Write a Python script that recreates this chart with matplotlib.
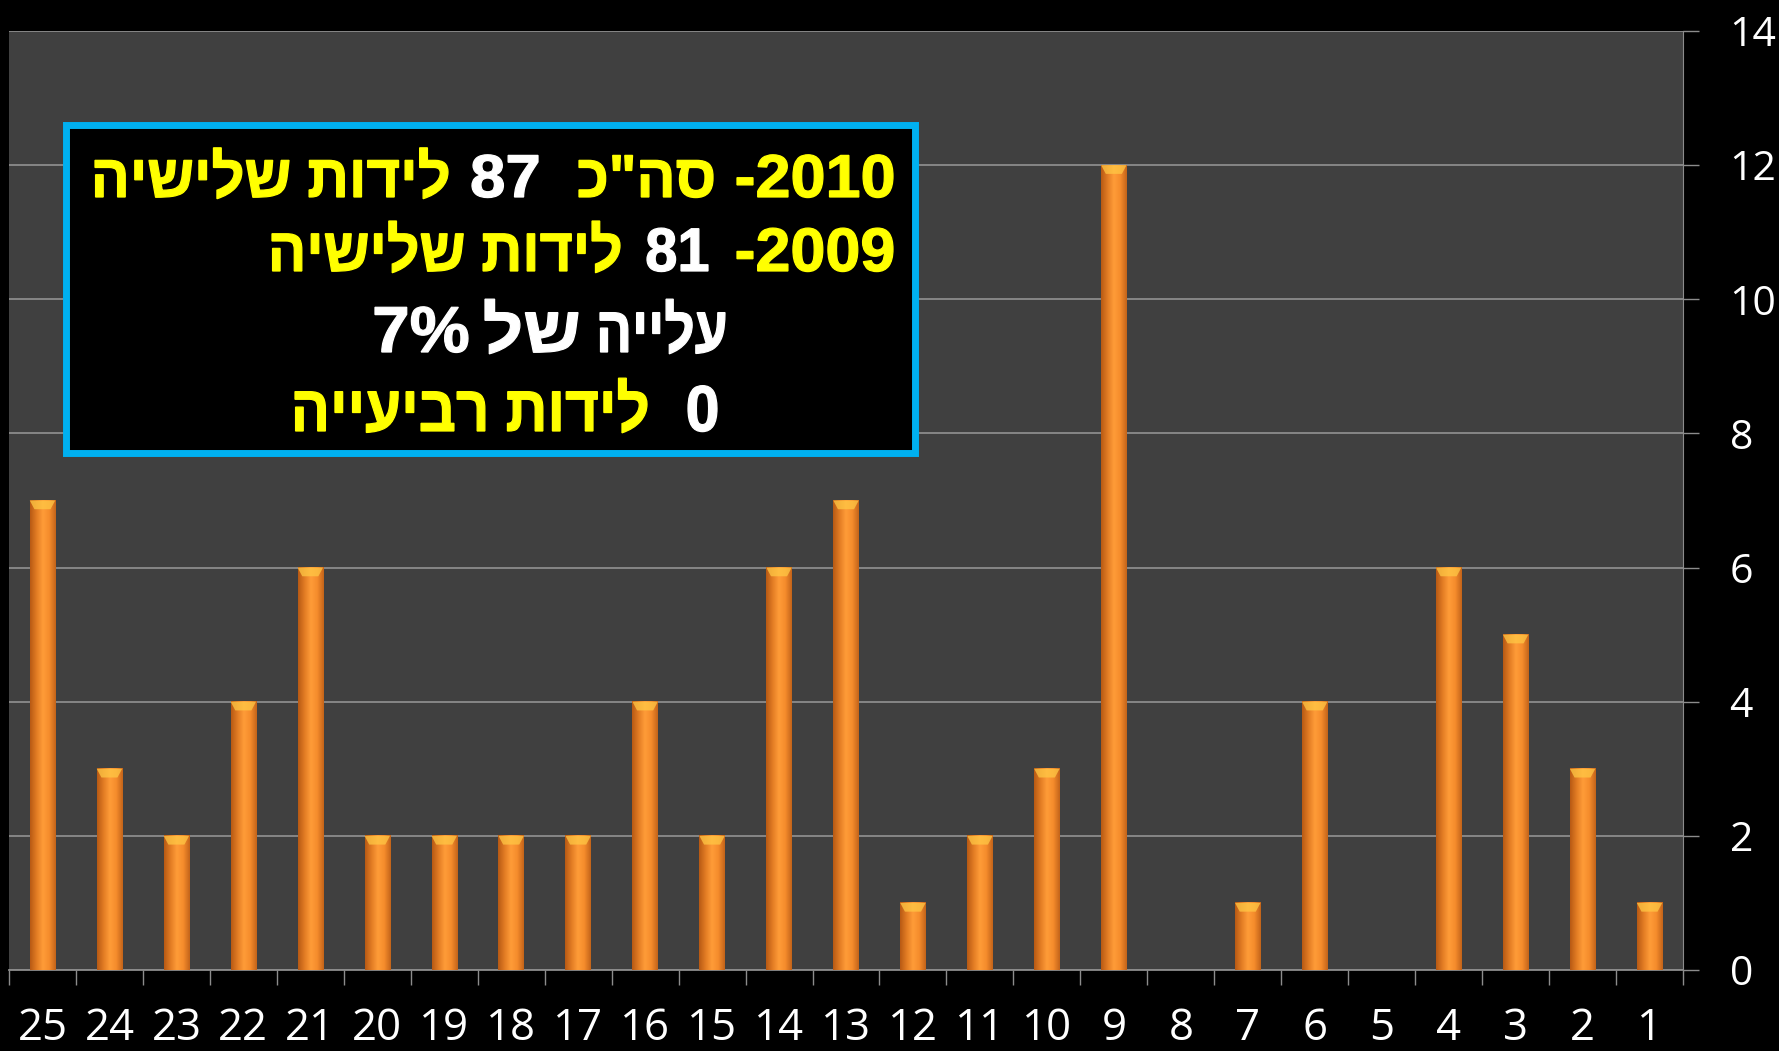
import matplotlib.pyplot as plt
import numpy as np
from matplotlib.colors import LinearSegmentedColormap
from matplotlib.patches import Rectangle, Polygon, PathPatch
from matplotlib.textpath import TextPath
from matplotlib.font_manager import FontProperties
from matplotlib.transforms import Affine2D

# category labels (drawn left to right) and the counts per category
labels = [25, 24, 23, 22, 21, 20, 19, 18, 17, 16, 15, 14, 13,
          12, 11, 10, 9, 8, 7, 6, 5, 4, 3, 2, 1]
counts = [7, 3, 2, 4, 6, 2, 2, 2, 2, 4, 2, 6, 7,
          1, 2, 3, 12, 0, 1, 4, 0, 6, 5, 3, 1]
yticks = [0, 2, 4, 6, 8, 10, 12, 14]

# box text, in visual left-to-right order (Hebrew reversed for display)
YEL = '#FFFF00'
WHT = '#FFFFFF'
line1 = [("הישילש תודיל", YEL), ("87", WHT), ("כ\"הס", YEL), ("-2010", YEL)]
line2 = [("הישילש תודיל", YEL), ("81", WHT), ("-2009", YEL)]
line3 = [("7%", WHT), ("לש", WHT), ("היילע", WHT)]
line4 = [("הייעיבר תודיל", YEL), ("0", WHT)]

# where each text piece sits inside the box (pixel spans, baseline, em size)
span1 = [(95, 448), (472, 538), (579, 713), (737, 893)]
span2 = [(272, 620), (647, 708), (737, 893)]
span3 = [(375, 468), (485, 578), (600, 725)]
span4 = [(295, 647), (688, 717)]

W, H = 1779, 1051
fig = plt.figure(figsize=(W / 100, H / 100), dpi=100, facecolor='black')
ax = fig.add_axes([9 / W, 1 - 970 / H, (1683 - 9) / W, (970 - 31) / H])
ax.set_facecolor('#404040')

x = np.arange(len(labels))
bw = 0.38
grad = LinearSegmentedColormap.from_list(
    'bar', ['#B85A14', '#E27C24', '#FF9C38', '#F58C2C', '#C4641A'])
g = grad(np.linspace(0, 1, 64))[None, :, :]
for xi, v in zip(x, counts):
    if v <= 0:
        continue
    ax.imshow(g, extent=(xi - bw / 2, xi + bw / 2, 0, v), aspect='auto',
              zorder=3, interpolation='bilinear')
    cap = Polygon([(xi - bw / 2, v), (xi + bw / 2, v),
                   (xi + bw / 2 - 0.07, v - 0.13), (xi - bw / 2 + 0.07, v - 0.13)],
                  closed=True, facecolor='#FFC845', edgecolor='none', alpha=0.75,
                  zorder=4)
    ax.add_patch(cap)

ax.set_xlim(-0.5, len(labels) - 0.5)
ax.set_ylim(0, 14)

ax.yaxis.tick_right()
ax.set_yticks(yticks)
ax.set_yticklabels([str(t) for t in yticks])
ax.yaxis.grid(True, color='#8C8C8C', lw=1.3, zorder=1)
ax.set_axisbelow(True)
ax.tick_params(axis='y', direction='out', length=11.5, width=1, color='#8C8C8C',
               labelcolor='white', labelsize=29.5, pad=22)

ax.set_xticks(x)
ax.set_xticklabels([str(l) for l in labels])
ax.set_xticks(np.arange(-0.5, len(labels), 1), minor=True)
ax.tick_params(axis='x', which='major', length=0, labelcolor='white',
               labelsize=31.5, pad=26)
ax.tick_params(axis='x', which='minor', direction='out', length=11, width=1,
               color='#8C8C8C')
for lab in ax.get_xticklabels() + ax.get_yticklabels():
    lab.set_fontfamily('Open Sans')

for s in ['top', 'left']:
    ax.spines[s].set_visible(False)
ax.spines['right'].set_color('#8C8C8C')
ax.spines['bottom'].set_color('#8C8C8C')
ax.spines['bottom'].set_linewidth(1.3)

# text box
fig.patches.append(Rectangle((65.5 / W, 1 - 452.5 / H), (915.5 - 65.5) / W,
                             (452.5 - 124.5) / H, transform=fig.transFigure,
                             facecolor='black', edgecolor='#00B0F0', lw=5, zorder=5))

to_fig = Affine2D().scale(1 / W, 1 / H) + fig.transFigure
fp = FontProperties(family='Liberation Sans', weight='bold')


def draw_line(segs, spans, base_y, em):
    # each piece is drawn from its glyph outlines and fitted to its span
    for (s, c), (left, right) in zip(segs, spans):
        tp = TextPath((0, 0), s, size=em, prop=fp)
        ext = tp.get_extents()
        sx = (right - left) / ext.width
        tr = Affine2D().translate(-ext.x0, 0).scale(sx, 1).translate(left, H - base_y)
        fig.add_artist(PathPatch(tp, transform=tr + to_fig, facecolor=c,
                                 edgecolor=c, lw=0.9, zorder=6))


draw_line(line1, span1, 197, 60.5)
draw_line(line2, span2, 271, 61.5)
draw_line(line3, span3, 352, 65)
draw_line(line4, span4, 431, 65)

fig.savefig('out.png', dpi=100, facecolor='black')
